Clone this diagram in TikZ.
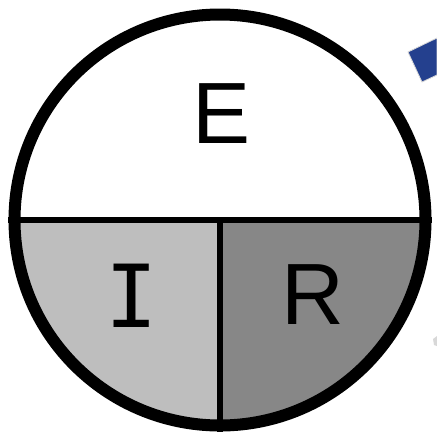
\documentclass[tikz,border=0pt]{standalone}
\usepackage{fontspec}
\setmainfont{Liberation Sans}
\newfontfamily\barfont{DejaVu Sans Mono}
\definecolor{ifill}{HTML}{BEBEBE}
\definecolor{rfill}{HTML}{878787}
\definecolor{arrowblue}{HTML}{24408E}
\definecolor{faintgray}{HTML}{D8D8D8}

\begin{document}
\begin{tikzpicture}[
  x=1pt,
  y=-1pt,
  rim/.style={draw=black, line width=12pt},
  divider/.style={draw=black, line width=6pt},
  letter/.style={inner sep=0pt, text=black, font=\fontsize{87}{87}\selectfont}
]
  \useasboundingbox (0,0) rectangle (437,434);
  \coordinate (c) at (220,220);
  \coordinate (w) at (8,220);
  \coordinate (e) at (432,220);
  \coordinate (s) at (220,432);

  % Shaded lower quarters.
  \begin{scope}
    \clip (c) circle (205.5);
    \fill[ifill] (0,220) rectangle (220,440);
    \fill[rfill] (220,220) rectangle (440,440);
  \end{scope}

  % Dividing lines and rim.
  \draw[divider] (w) -- (e);
  \draw[divider] (c) -- (s);
  \draw[rim] (c) circle (205.5);

  % Letters.
  \node[letter] (nodeE) at (222,114) {E};
  \node[letter,font=\barfont\fontsize{87}{87}\selectfont] (nodeI) at (132,296) {I};
  \node[letter] (nodeR) at (313,295) {R};

  % Cropped arrow at the right edge.
  \fill[arrowblue,draw=faintgray,line width=0.8pt]
    (408,52) -- (437,38) -- (437,75) -- (422,82) -- cycle;
  \fill[faintgray] (433,339) -- (437,336) -- (437,346) -- (434,345) -- cycle;
\end{tikzpicture}
\end{document}
